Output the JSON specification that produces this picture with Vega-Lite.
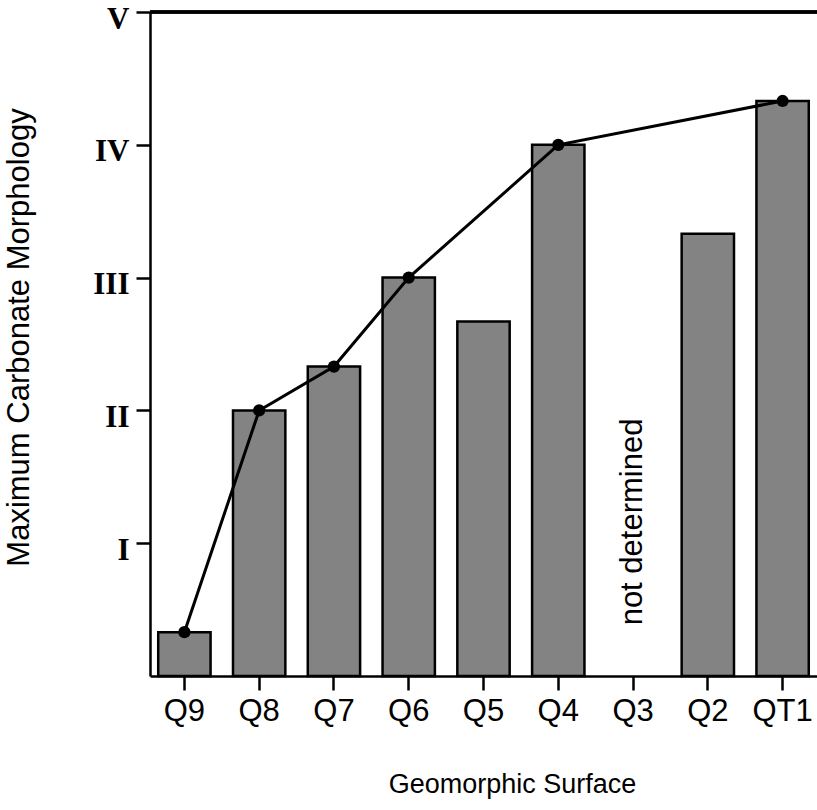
{
  "$schema": "https://vega.github.io/schema/vega-lite/v6.json",
  "width": 667,
  "height": 664,
  "autosize": {"type": "none"},
  "padding": {"left": 150, "top": 12, "right": 0, "bottom": 134},
  "background": "white",
  "config": {
    "view": {"stroke": null},
    "axis": {"grid": false, "domainColor": "black", "tickColor": "black", "domainWidth": 2.5, "tickWidth": 2.5, "tickSize": 14, "labelColor": "black", "titleColor": "black"},
    "scale": {"bandPaddingInner": 0.3, "bandPaddingOuter": 0.11}
  },
  "data": {
    "values": [
      {"surface": "Q9", "stage": 0.33, "envelope": true},
      {"surface": "Q8", "stage": 2.0, "envelope": true},
      {"surface": "Q7", "stage": 2.33, "envelope": true},
      {"surface": "Q6", "stage": 3.0, "envelope": true},
      {"surface": "Q5", "stage": 2.67, "envelope": false},
      {"surface": "Q4", "stage": 4.0, "envelope": true},
      {"surface": "Q3", "stage": null, "envelope": false, "note": "not determined"},
      {"surface": "Q2", "stage": 3.33, "envelope": false},
      {"surface": "QT1", "stage": 4.33, "envelope": true}
    ]
  },
  "encoding": {
    "x": {
      "field": "surface",
      "type": "nominal",
      "sort": null,
      "scale": {"domain": ["Q9", "Q8", "Q7", "Q6", "Q5", "Q4", "Q3", "Q2", "QT1"]},
      "axis": {
        "title": "Geomorphic Surface",
        "labelAngle": 0,
        "labelFont": "Liberation Sans",
        "labelFontSize": 31,
        "labelPadding": 6,
        "titleFont": "Liberation Sans",
        "titleFontSize": 27,
        "titleFontWeight": "normal",
        "titleX": 362,
        "titleY": 116,
        "titleBaseline": "alphabetic"
      }
    }
  },
  "layer": [
    {
      "mark": {"type": "bar", "fill": "#838383", "stroke": "black", "strokeWidth": 2.5},
      "encoding": {
        "y": {
          "field": "stage",
          "type": "quantitative",
          "scale": {"domain": [0, 5], "nice": false},
          "axis": {
            "title": "Maximum Carbonate Morphology",
            "values": [1, 2, 3, 4, 5],
            "labelExpr": "['', 'I', 'II', 'III', 'IV', 'V'][datum.value]",
            "labelFont": "Liberation Serif",
            "labelFontWeight": "bold",
            "labelFontSize": 31,
            "labelPadding": 7,
            "labelOffset": 7,
            "titleFont": "Liberation Sans",
            "titleFontSize": 31,
            "titleFontWeight": "normal",
            "titleAngle": -90,
            "titleX": -131,
            "titleY": 325,
            "titleBaseline": "middle",
            "titleAlign": "center"
          }
        }
      }
    },
    {
      "mark": {"type": "rule", "color": "black", "strokeWidth": 2.5},
      "encoding": {"y": {"datum": 5}, "x": null}
    },
    {
      "transform": [{"filter": "datum.envelope"}],
      "mark": {"type": "line", "color": "black", "strokeWidth": 3},
      "encoding": {"y": {"field": "stage", "type": "quantitative"}}
    },
    {
      "transform": [{"filter": "datum.envelope"}],
      "mark": {"type": "point", "filled": true, "color": "black", "size": 150, "opacity": 1},
      "encoding": {"y": {"field": "stage", "type": "quantitative"}}
    },
    {
      "transform": [{"filter": "datum.note != null"}],
      "mark": {"type": "text", "angle": 270, "align": "center", "baseline": "middle", "font": "Liberation Sans", "fontSize": 31, "color": "black"},
      "encoding": {"y": {"datum": 1.16}, "text": {"field": "note"}}
    }
  ]
}
